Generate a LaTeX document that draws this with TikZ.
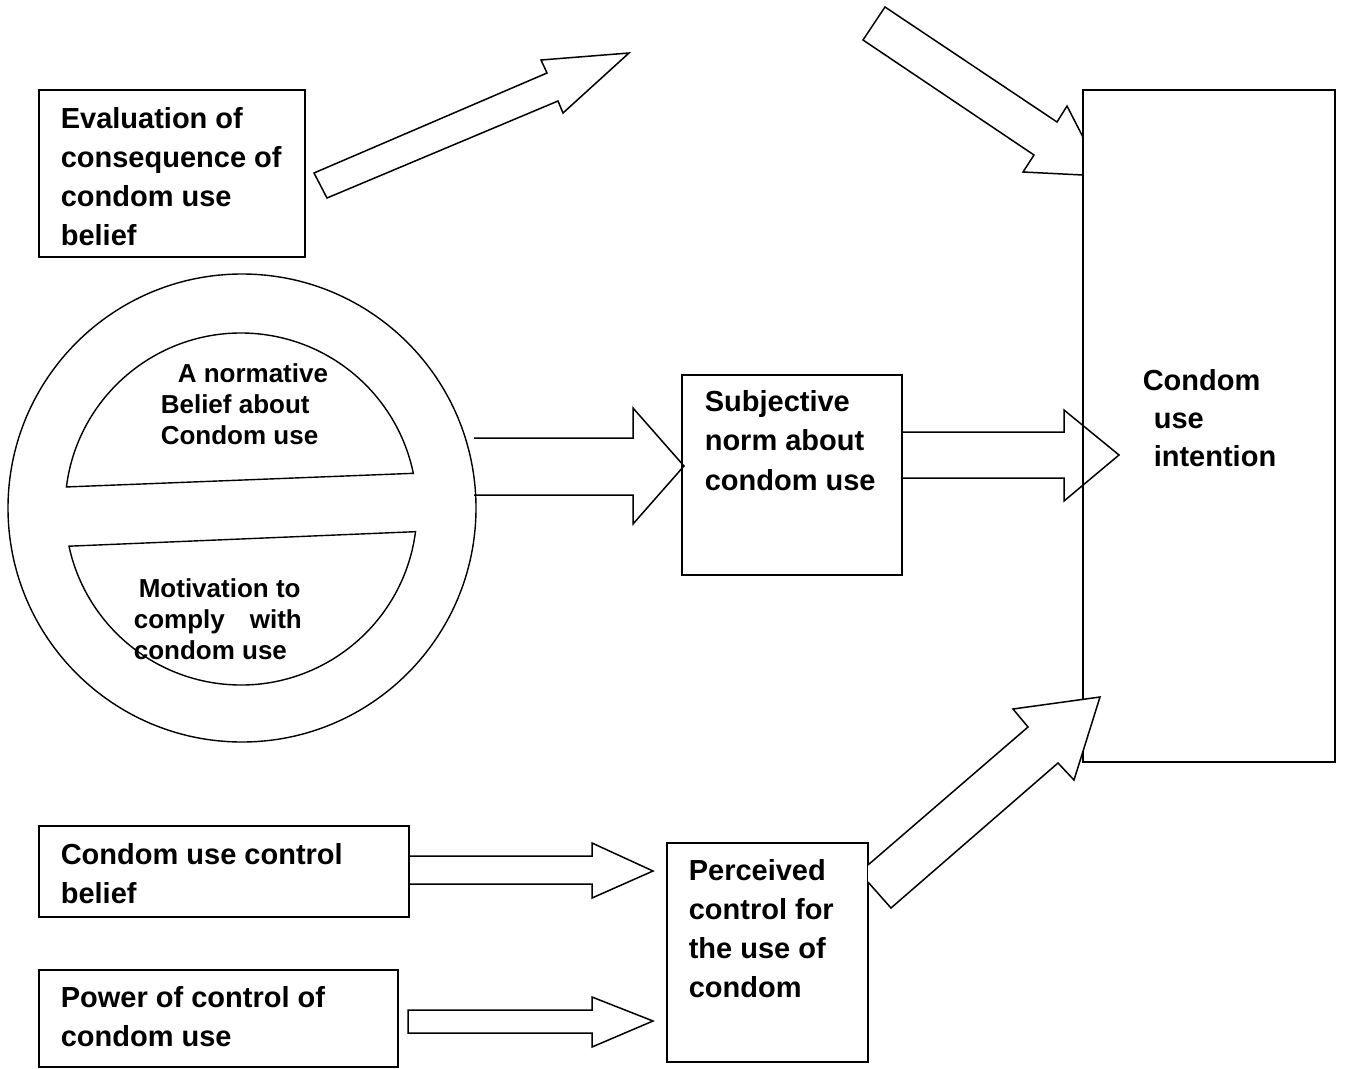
\documentclass[tikz,border=0pt]{standalone}
\usepackage{fontspec}
\setmainfont{Liberation Sans}
\begin{document}
\begin{tikzpicture}[x=1pt,y=-1pt,line width=1.6pt,line join=miter,
  box/.style={draw,line width=1.6pt,inner sep=0pt,outer sep=0pt,rectangle},
  big/.style={font=\fontsize{29}{39}\selectfont\bfseries,align=left,anchor=base west,inner sep=0pt},
  small/.style={font=\fontsize{26}{31}\selectfont\bfseries,align=left,anchor=base west,inner sep=0pt},
  blockarrow/.style={draw,line width=1.5pt,line join=miter}]
\useasboundingbox (0,0) rectangle (1345,1069);

% arrow from evaluation box (upwards)
\draw[blockarrow] (327,198) -- (314,173) -- (547,73) -- (541,60) -- (629,53) -- (563,113) -- (558,101) -- cycle;
% arrow into intention box from top (behind the box)
\draw[blockarrow] (885,7) -- (863,40) -- (1034,155) -- (1023,172) -- (1103,176) -- (1067,106) -- (1057,122) -- cycle;

% boxes
\node[box,minimum width=266pt,minimum height=167pt] (eval) at (172,173.5) {};
\node[box,fill=white,minimum width=252pt,minimum height=672pt] (intent) at (1209,426) {};
\node[box,minimum width=220pt,minimum height=200pt] (subj) at (792,475) {};
\node[box,minimum width=370pt,minimum height=91pt] (ctrl) at (224,871.5) {};
\node[box,minimum width=359pt,minimum height=97pt] (power) at (218.5,1018.5) {};
\node[box,minimum width=201pt,minimum height=219pt] (perc) at (767.5,952.5) {};

% circle with two segments
\node[draw,circle,line width=1.4pt,minimum size=468pt,inner sep=0pt] (circ) at (242,508) {};
\coordinate (cc) at (241,509);
\draw[line width=1.4pt] (cc) ++(-172.8:176) arc[start angle=-172.8,end angle=-11.7,radius=176] -- cycle;
\draw[line width=1.4pt] (cc) ++(7.4:176) arc[start angle=7.4,end angle=167.8,radius=176] -- cycle;

% circle -> subjective norm
\draw[blockarrow] (474,438) -- (633,438) -- (633,408) -- (684,466) -- (633,524) -- (633,495) -- (474,495);
% subjective norm -> intention
\draw[blockarrow] (902,432) -- (1064,432) -- (1064,410) -- (1119,455) -- (1064,501) -- (1064,478) -- (902,478);
% perceived control -> intention (on top of boxes)
\filldraw[blockarrow,fill=white] (868,882) -- (891,908) -- (1058,763) -- (1074,780) -- (1100,697) -- (1013,709) -- (1028,727) -- (868,865);
% control belief -> perceived
\draw[blockarrow] (409,856) -- (592,856) -- (592,843) -- (653,871) -- (592,898) -- (592,884) -- (409,884);
% power -> perceived
\draw[blockarrow] (408,1010) -- (592,1010) -- (592,997) -- (653,1021) -- (592,1047) -- (592,1033) -- (408,1033) -- cycle;

% texts (anchor = baseline of the last line)
\node[big] (evalt) at (60,245) {Evaluation of\\consequence of\\condom use\\belief};
\node[small] (normt) at (160,444) {\hspace{17pt}A normative\\Belief about\\Condom use};
\node[small] (mott) at (133,659) {\hspace{5pt}Motivation to\\comply\hspace{25pt}with\\condom use};
\node[big,font=\fontsize{29}{39.5}\selectfont\bfseries] (subjt) at (704,490) {Subjective\\norm about\\condom use};
\node[big,font=\fontsize{29}{38}\selectfont\bfseries] (intentt) at (1142,466) {Condom\\\hspace{11pt}use\\\hspace{11pt}intention};
\node[big] (ctrlt) at (60,903) {Condom use control\\belief};
\node[big] (powert) at (60,1046) {Power of control of\\condom use};
\node[big] (perct) at (688,997) {Perceived\\control for\\the use of\\condom};
\end{tikzpicture}
\end{document}
